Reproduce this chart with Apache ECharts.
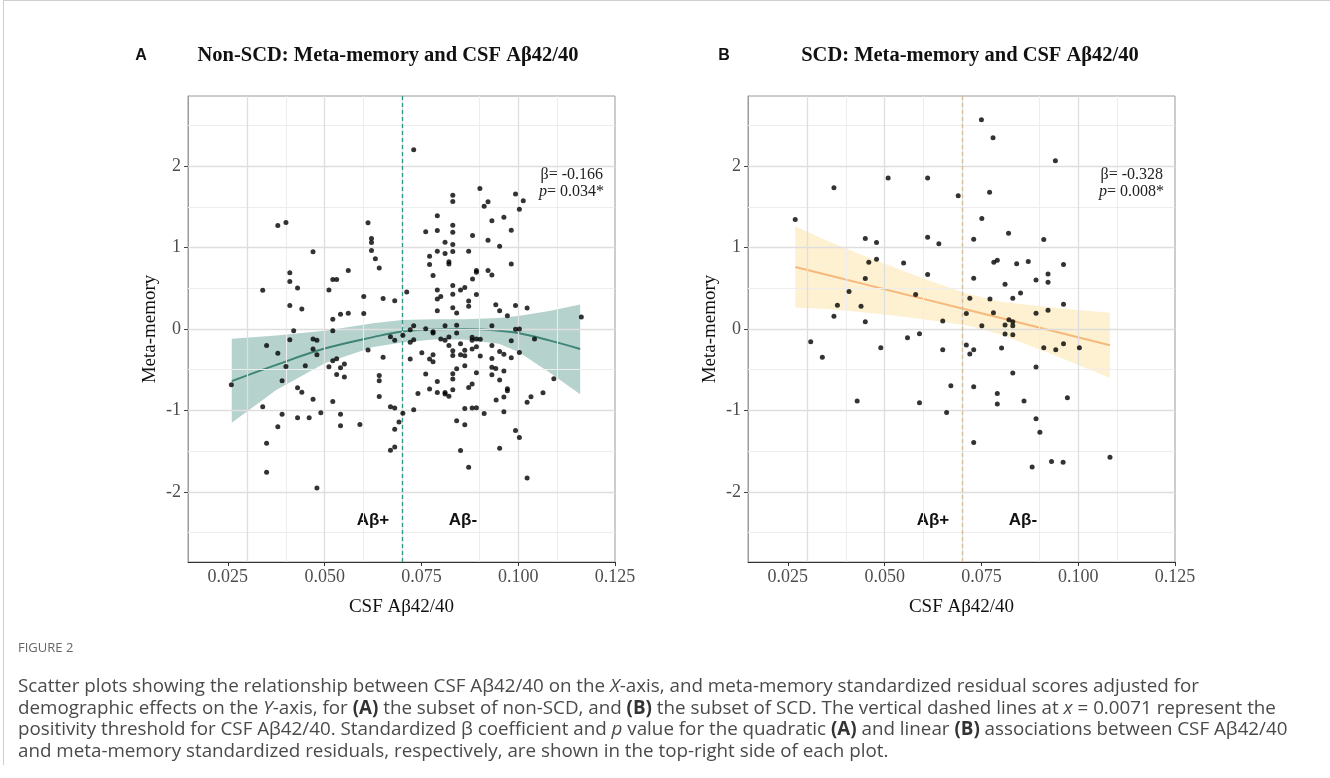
<!DOCTYPE html>
<html><head><meta charset="utf-8">
<script src="https://cdn.jsdelivr.net/npm/echarts@6/dist/echarts.min.js"></script>
<style>html,body{margin:0;padding:0;background:#fff;}#c{width:1330px;height:778px;}</style>
</head><body><div id="c"></div>
<script>
// ---- tick values ----
const xMajorTicks = [0.025, 0.05, 0.075, 0.1, 0.125];
const xMinorTicks = [0.0375, 0.0625, 0.0875, 0.1125];
const yMajorTicks = [-2, -1, 0, 1, 2];
const yMinorTicks = [-2.5, -1.5, -0.5, 0.5, 1.5, 2.5];
const threshold = 0.071;

// ---- Panel A: non-SCD points [CSF Ab42/40, meta-memory] ----
const nonScdPoints = [
[0.0379,1.270],[0.0400,1.307],[0.0612,1.303],[0.0621,1.111],[0.0621,1.061],[0.0621,0.963],[0.0631,0.861],[0.0641,0.750],[0.0470,0.947],[0.0410,0.689],[0.0410,0.582],[0.0430,0.504],[0.0340,0.475],[0.0511,0.480],[0.0521,0.607],[0.0531,0.607],[0.0561,0.717],[0.0601,0.398],[0.0651,0.373],[0.0681,0.348],[0.0410,0.287],[0.0441,0.246],[0.0521,0.119],[0.0541,0.180],[0.0561,0.193],[0.0601,0.189],[0.0712,0.455],
[0.0730,2.201],[0.0901,1.725],[0.0831,1.643],[0.0831,1.566],[0.0993,1.656],[0.1013,1.574],[0.0922,1.561],[0.0912,1.508],[0.1003,1.471],[0.0791,1.389],[0.0963,1.373],[0.0932,1.328],[0.0761,1.193],[0.0791,1.209],[0.0831,1.275],[0.0831,1.189],[0.0982,1.213],[0.0882,1.148],[0.0922,1.090],[0.0811,1.066],[0.0831,1.037],[0.0952,1.016],[0.0771,0.893],[0.0791,0.955],[0.0811,0.926],[0.0831,0.951],[0.0872,0.955],[0.0771,0.791],[0.0821,0.824],[0.0821,0.799],[0.0982,0.799],[0.0892,0.717],[0.0892,0.697],[0.0922,0.717],[0.0932,0.664],[0.0780,0.656],[0.0882,0.615],[0.0831,0.533],[0.0851,0.480],[0.0862,0.508],[0.0791,0.480],[0.0800,0.398],[0.0791,0.369],[0.0831,0.426],[0.0892,0.422],[0.0872,0.344],[0.0872,0.279],[0.0831,0.262],[0.0841,0.197],[0.0791,0.225],[0.0942,0.299],[0.0952,0.225],[0.0972,0.164],[0.0993,0.287],[0.1023,0.258],[0.1163,0.148],
[0.0730,0.041],[0.0721,-0.008],[0.0761,0.004],[0.0811,0.041],[0.0841,0.045],[0.0932,0.041],[0.0993,-0.004],[0.1003,0.000],[0.0780,-0.033],[0.0780,-0.049],[0.0841,-0.049],[0.0821,-0.098],[0.0800,-0.123],[0.0811,-0.139],[0.0881,-0.102],[0.0892,-0.123],[0.0902,-0.127],[0.0881,-0.139],[0.0851,-0.180],[0.0821,-0.201],[0.0730,-0.131],[0.0721,-0.164],[0.0932,-0.201],[0.0982,-0.143],[0.1042,-0.123],[0.0831,-0.266],[0.0831,-0.324],[0.0862,-0.262],[0.0862,-0.328],[0.0851,-0.316],[0.0881,-0.246],[0.0892,-0.217],[0.0751,-0.291],[0.0780,-0.316],[0.0771,-0.369],[0.0780,-0.402],[0.0952,-0.275],[0.0963,-0.311],[0.0902,-0.332],[0.0932,-0.361],[0.0982,-0.352],[0.1003,-0.287],[0.0721,-0.369],[0.0841,-0.488],[0.0761,-0.553],[0.0831,-0.549],[0.0831,-0.615],[0.0862,-0.451],[0.0932,-0.471],[0.0932,-0.561],[0.0942,-0.484],[0.0963,-0.516],[0.0892,-0.537],[0.0952,-0.627],[0.1092,-0.611],[0.0771,-0.738],[0.0791,-0.643],[0.0791,-0.779],[0.0811,-0.779],[0.0811,-0.799],[0.0821,-0.824],[0.0831,-0.746],[0.0881,-0.676],[0.0872,-0.717],[0.0972,-0.734],[0.0972,-0.758],[0.0963,-0.836],[0.0943,-0.873],[0.0741,-0.791],[0.1064,-0.783],[0.1033,-0.832],[0.1023,-0.898],[0.0730,-0.992],[0.0702,-1.033],[0.0862,-0.975],[0.0881,-0.971],[0.0892,-0.967],[0.0912,-1.037],[0.0963,-1.016],[0.0841,-1.127],[0.0862,-1.176],[0.0993,-1.246],[0.1003,-1.332],[0.0851,-1.492],[0.0952,-1.463],[0.0872,-1.697],[0.1023,-1.828],
[0.0420,-0.020],[0.0521,-0.020],[0.0410,-0.131],[0.0470,-0.123],[0.0480,-0.139],[0.0470,-0.246],[0.0480,-0.316],[0.0350,-0.201],[0.0379,-0.299],[0.0400,-0.459],[0.0390,-0.635],[0.0450,-0.451],[0.0430,-0.721],[0.0441,-0.775],[0.0470,-0.861],[0.0521,-0.389],[0.0531,-0.365],[0.0511,-0.463],[0.0531,-0.557],[0.0541,-0.475],[0.0551,-0.430],[0.0551,-0.590],[0.0612,-0.258],[0.0651,-0.348],[0.0641,-0.570],[0.0641,-0.635],[0.0641,-0.828],[0.0670,-0.094],[0.0681,-0.139],[0.0702,-0.078],[0.0670,-0.955],[0.0681,-0.971],[0.0692,-1.143],[0.0681,-1.230],[0.0670,-1.488],[0.0681,-1.447],[0.0521,-0.889],[0.0541,-1.045],[0.0541,-1.189],[0.0490,-1.029],[0.0591,-1.172],[0.0460,-1.090],[0.0430,-1.090],[0.0390,-1.045],[0.0379,-1.201],[0.0340,-0.955],[0.0350,-1.402],[0.0350,-1.758],[0.0480,-1.951],[0.0259,-0.684]
];
// quadratic fit and 95% band for panel A
const nonScdFitX  = [0.026, 0.0375, 0.05, 0.0625, 0.07, 0.078, 0.086, 0.095, 0.1, 0.108, 0.116];
const nonScdFit   = [-0.64, -0.44, -0.24, -0.10, -0.03, -0.005, 0.0, -0.02, -0.05, -0.14, -0.245];
const nonScdUpper = [-0.12, -0.08, -0.02, 0.07, 0.11, 0.12, 0.12, 0.135, 0.16, 0.22, 0.30];
const nonScdLower = [-1.15, -0.75, -0.42, -0.22, -0.165, -0.13, -0.13, -0.18, -0.28, -0.53, -0.80];

// ---- Panel B: SCD points ----
const scdPoints = [
[0.0269,1.344],[0.0369,1.734],[0.0509,1.852],[0.0611,1.852],[0.0690,1.635],[0.0450,1.111],[0.0479,1.061],[0.0611,1.127],[0.0640,1.045],[0.0479,0.857],[0.0459,0.820],[0.0549,0.811],[0.0450,0.619],[0.0611,0.668],[0.0408,0.459],[0.0580,0.422],[0.0378,0.291],[0.0439,0.279],[0.0369,0.156],[0.0450,0.090],[0.0650,0.098],[0.0711,0.189],[0.0720,0.377],[0.0751,1.357],[0.0820,1.176],[0.0911,1.098],[0.0730,1.102],[0.0782,0.820],[0.0791,0.844],[0.0841,0.800],[0.0871,0.828],[0.0962,0.791],[0.0730,0.623],[0.0922,0.676],[0.0922,0.574],[0.0891,0.602],[0.0811,0.549],[0.0851,0.443],[0.0831,0.377],[0.0772,0.369],[0.0962,0.303],[0.0781,0.200],[0.0751,0.041],[0.0811,0.049],[0.0831,0.041],[0.0831,0.090],[0.0821,0.115],[0.0891,0.193],[0.0922,0.230],[0.0811,-0.061],[0.0831,-0.070],[0.0911,-0.230],[0.0942,-0.254],[0.0962,-0.180],[0.1003,-0.230],[0.0309,-0.156],[0.0339,-0.348],[0.0490,-0.230],[0.0559,-0.107],[0.0590,-0.057],[0.0650,-0.254],[0.0711,-0.197],[0.0720,-0.307],[0.0730,-0.254],[0.0802,-0.234],[0.0891,-0.467],[0.0831,-0.541],[0.0671,-0.697],[0.0730,-0.709],[0.0791,-0.791],[0.0972,-0.844],[0.0429,-0.885],[0.0590,-0.906],[0.0660,-1.025],[0.0791,-0.922],[0.0860,-0.885],[0.0891,-1.102],[0.0901,-1.266],[0.0730,-1.393],[0.0881,-1.693],[0.0931,-1.627],[0.0961,-1.635],[0.1082,-1.574],[0.0750,2.570],[0.0780,2.348],[0.0941,2.066],[0.0771,1.680]
];
// linear fit and 95% band for panel B
const scdFitX  = [0.0269, 0.035, 0.045, 0.05, 0.06, 0.0713, 0.08, 0.0875, 0.095, 0.1082];
const scdFit   = [0.762, 0.666, 0.548, 0.489, 0.370, 0.237, 0.134, 0.045, -0.044, -0.200];
const scdUpper = [1.26, 1.086, 0.893, 0.80, 0.62, 0.432, 0.334, 0.295, 0.256, 0.20];
const scdLower = [0.264, 0.246, 0.203, 0.179, 0.12, 0.042, -0.066, -0.205, -0.344, -0.60];

// ---- styling ----
const serif = '"Liberation Serif","Times New Roman",serif';
const sans = '"Liberation Sans",Arial,sans-serif';
const capFont = '"Open Sans","Noto Sans",sans-serif';
const grids = [
  {left:188, top:96, width:427, height:466},
  {left:748, top:96, width:427, height:466}
];
const panels = [
  {pts:nonScdPoints, fx:nonScdFitX, fit:nonScdFit, up:nonScdUpper, lo:nonScdLower,
   line:'#3e8477', band:'rgba(62,138,124,0.38)', dash:'#2a998b'},
  {pts:scdPoints, fx:scdFitX, fit:scdFit, up:scdUpper, lo:scdLower,
   line:'#f5b97c', band:'rgba(253,232,178,0.6)', dash:'#d8bd98'}
];

const xAxes = [], yAxes = [], series = [];
panels.forEach((p, i) => {
  xAxes.push({
    type:'value', gridIndex:i, min:0.0147, max:0.125,
    splitLine:{show:false},
    axisLine:{show:true, onZero:false, lineStyle:{color:'#333', width:1}},
    axisTick:{show:true, length:4, customValues:xMajorTicks, lineStyle:{color:'#333'}},
    axisLabel:{customValues:xMajorTicks, formatter:v=>v.toFixed(3), color:'#4d4d4d',
      fontFamily:serif, fontSize:18, margin:6},
    name:'CSF Aβ42/40', nameLocation:'middle', nameGap:36,
    nameTextStyle:{fontFamily:serif, fontSize:19, color:'#111'}
  });
  yAxes.push({
    type:'value', gridIndex:i, min:-2.86, max:2.86,
    splitLine:{show:false},
    axisLine:{show:true, onZero:false, lineStyle:{color:'#9a9a9a', width:1}},
    axisTick:{show:true, length:4, customValues:yMajorTicks, lineStyle:{color:'#444'}},
    axisLabel:{customValues:yMajorTicks, formatter:v=>String(v), color:'#4d4d4d',
      fontFamily:serif, fontSize:18, margin:7},
    name:'Meta-memory', nameLocation:'middle', nameGap:28, nameRotate:90,
    nameTextStyle:{fontFamily:serif, fontSize:19, color:'#111'}
  });
  const gl = [];
  xMinorTicks.forEach(v=>gl.push({xAxis:v, lineStyle:{color:'#ededed', width:1, type:'solid'}}));
  yMinorTicks.forEach(v=>gl.push({yAxis:v, lineStyle:{color:'#ededed', width:1, type:'solid'}}));
  xMajorTicks.forEach(v=>gl.push({xAxis:v, lineStyle:{color:'#dedede', width:1.3, type:'solid'}}));
  yMajorTicks.forEach(v=>gl.push({yAxis:v, lineStyle:{color:'#dedede', width:1.3, type:'solid'}}));
  series.push({
    type:'line', xAxisIndex:i, yAxisIndex:i, z:1, silent:true, showSymbol:false,
    data:[[threshold,0]], lineStyle:{opacity:0},
    markLine:{silent:true, symbol:['none','none'], label:{show:false}, animation:false, data:gl}
  });
  series.push({
    type:'custom', xAxisIndex:i, yAxisIndex:i, z:2, silent:true,
    data:[[p.fx[0], p.lo[0]]],
    renderItem:(params, api)=>{
      const pts=[];
      for (let k=0;k<p.fx.length;k++) pts.push(api.coord([p.fx[k], p.up[k]]));
      for (let k=p.fx.length-1;k>=0;k--) pts.push(api.coord([p.fx[k], p.lo[k]]));
      return {type:'polygon', shape:{points:pts}, style:{fill:p.band}};
    }
  });
  series.push({
    type:'line', xAxisIndex:i, yAxisIndex:i, z:3, silent:true, showSymbol:false,
    smooth:i===0 ? 0.4 : false,
    data:p.fx.map((x,k)=>[x,p.fit[k]]),
    lineStyle:{color:p.line, width:2}
  });
  series.push({
    type:'line', xAxisIndex:i, yAxisIndex:i, z:4, silent:true, showSymbol:false,
    data:[[threshold,0]], lineStyle:{opacity:0},
    markLine:{silent:true, symbol:['none','none'], label:{show:false}, animation:false,
      data:[{xAxis:threshold}], lineStyle:{color:p.dash, width:1.3, type:[4,3]}}
  });
  series.push({
    type:'scatter', xAxisIndex:i, yAxisIndex:i, z:5, silent:true,
    symbolSize:5, itemStyle:{color:'#000'}, data:p.pts
  });
});

const italic = {fontStyle:'italic', fontFamily:serif, fontSize:16, fill:'#222'};
function txt(x, y, text, style){
  return {type:'text', x, y, silent:true, style:Object.assign({text}, style)};
}
const capSize = 18.8;
const capStyle = {fontFamily:capFont, fontSize:capSize, fill:'#4a4a4a', verticalAlign:'middle',
  rich:{i:{fontStyle:'italic', fontFamily:capFont, fontSize:capSize, fill:'#4a4a4a'},
        b:{fontWeight:'bold', fontFamily:capFont, fontSize:capSize, fill:'#333'}}};
const graphic = [
  {type:'line', silent:true, shape:{x1:3, y1:0.5, x2:1330, y2:0.5}, style:{stroke:'#cfcfcf', lineWidth:1}},
  {type:'line', silent:true, shape:{x1:3.5, y1:0, x2:3.5, y2:765}, style:{stroke:'#cfcfcf', lineWidth:1}},
  txt(141, 56, 'A', {fontFamily:sans, fontWeight:'bold', fontSize:16, fill:'#111', align:'center', verticalAlign:'middle'}),
  txt(388, 56, 'Non-SCD: Meta-memory and CSF Aβ42/40', {fontFamily:serif, fontWeight:'bold', fontSize:20.5, fill:'#111', align:'center', verticalAlign:'middle'}),
  txt(724, 56, 'B', {fontFamily:sans, fontWeight:'bold', fontSize:16, fill:'#111', align:'center', verticalAlign:'middle'}),
  txt(970, 56, 'SCD: Meta-memory and CSF Aβ42/40', {fontFamily:serif, fontWeight:'bold', fontSize:20.5, fill:'#111', align:'center', verticalAlign:'middle'}),
  txt(603, 175, 'β= -0.166', {fontFamily:serif, fontSize:16, fill:'#222', align:'right', verticalAlign:'middle'}),
  txt(604, 192, '{i|p}= 0.034*', {fontFamily:serif, fontSize:16, fill:'#222', align:'right', verticalAlign:'middle', rich:{i:italic}}),
  txt(1163, 175, 'β= -0.328', {fontFamily:serif, fontSize:16, fill:'#222', align:'right', verticalAlign:'middle'}),
  txt(1164, 192, '{i|p}= 0.008*', {fontFamily:serif, fontSize:16, fill:'#222', align:'right', verticalAlign:'middle', rich:{i:italic}}),
  txt(373, 520, 'Aβ+', {fontFamily:sans, fontWeight:'bold', fontSize:17, fill:'#111', align:'center', verticalAlign:'middle'}),
  txt(463, 520, 'Aβ-', {fontFamily:sans, fontWeight:'bold', fontSize:17, fill:'#111', align:'center', verticalAlign:'middle'}),
  txt(933, 520, 'Aβ+', {fontFamily:sans, fontWeight:'bold', fontSize:17, fill:'#111', align:'center', verticalAlign:'middle'}),
  txt(1023, 520, 'Aβ-', {fontFamily:sans, fontWeight:'bold', fontSize:17, fill:'#111', align:'center', verticalAlign:'middle'}),
  txt(18, 648, 'FIGURE 2', {fontFamily:capFont, fontSize:13, fill:'#666', verticalAlign:'middle'}),
  txt(18, 687, 'Scatter plots showing the relationship between CSF Aβ42/40 on the {i|X}-axis, and meta-memory standardized residual scores adjusted for', capStyle),
  txt(18, 708.5, 'demographic effects on the {i|Y}-axis, for {b|(A)} the subset of non-SCD, and {b|(B)} the subset of SCD. The vertical dashed lines at {i|x} = 0.0071 represent the', capStyle),
  txt(18, 730, 'positivity threshold for CSF Aβ42/40. Standardized β coefficient and {i|p} value for the quadratic {b|(A)} and linear {b|(B)} associations between CSF Aβ42/40', capStyle),
  txt(18, 751.5, 'and meta-memory standardized residuals, respectively, are shown in the top-right side of each plot.', capStyle)
];

const chart = echarts.init(document.getElementById('c'), null, {renderer:'canvas'});
chart.setOption({
  animation:false,
  backgroundColor:'#fff',
  grid: grids.map(g=>Object.assign({show:true, borderColor:'#9a9a9a', borderWidth:1, backgroundColor:'#fff'}, g)),
  xAxis:xAxes, yAxis:yAxes, series, graphic
});
</script></body></html>
